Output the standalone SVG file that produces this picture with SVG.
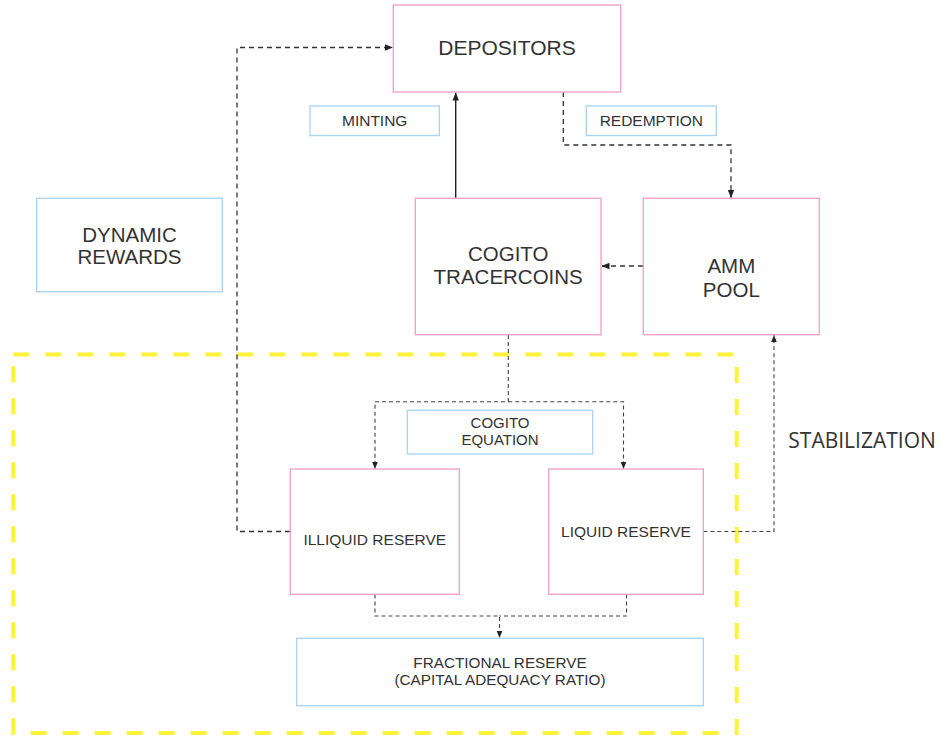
<svg xmlns="http://www.w3.org/2000/svg" width="940" height="737" viewBox="0 0 940 737">
<style>
.pk{fill:#fff;stroke:#f2a3c9;stroke-width:1.4}
.bl{fill:#fff;stroke:#acd6f6;stroke-width:1.4}
.t{font-family:"Liberation Sans",Arial,sans-serif;fill:#333;text-anchor:middle}
.big{font-size:20.5px}
.sm{font-size:15.5px}
.c1{fill:none;stroke:#333;stroke-width:1.3;stroke-dasharray:5 4}
.c2{fill:none;stroke:#444;stroke-width:1.1;stroke-dasharray:4 3}
.solid{fill:none;stroke:#222;stroke-width:1.4}
</style>
<defs>
<marker id="ah" markerUnits="userSpaceOnUse" markerWidth="8" markerHeight="8" viewBox="0 0 8 8" refX="8" refY="4" orient="auto">
<path d="M0,0.8 L8,4 L0,7.2 z" fill="#222"/>
</marker>
<marker id="as" markerUnits="userSpaceOnUse" markerWidth="7" markerHeight="7" viewBox="0 0 7 7" refX="7" refY="3.5" orient="auto">
<path d="M0,0.7 L7,3.5 L0,6.3 z" fill="#222"/>
</marker>
</defs>
<rect width="940" height="737" fill="#fff"/>
<rect id="stabilization-zone" x="13.3" y="354.5" width="723.4" height="378.5" fill="none" stroke="#fff23a" stroke-width="4" stroke-dasharray="16 16"/>
<g id="connectors">
<path class="c1" d="M290,531.5 H237 V47.5 H393" marker-end="url(#ah)"/>
<path class="solid" d="M455.7,198 V92.5" marker-end="url(#ah)"/>
<path class="c1" d="M563.3,92 V145 H731 V198" marker-end="url(#ah)"/>
<path class="c1" d="M643,266 H601.5" marker-end="url(#ah)"/>
<path class="c2" d="M508.3,335 V401.7 H375 V469" marker-end="url(#as)"/>
<path class="c2" d="M508.3,401.7 H623.5 V469" marker-end="url(#as)"/>
<path class="c2" d="M375,594.5 V616 H499.5 V638" marker-end="url(#as)"/>
<path class="c2" d="M626.5,594.5 V616 H499.5"/>
<path class="c2" d="M703.3,531.5 H774 V335" marker-end="url(#as)"/>
</g>
<g id="depositors">
<rect class="pk" x="393.3" y="5" width="227.4" height="87"/>
<text class="t" x="507" y="55" font-size="21">DEPOSITORS</text>
</g>
<g id="minting">
<rect class="bl" x="310" y="106" width="129.3" height="29.5"/>
<text class="t sm" x="374.7" y="125.5">MINTING</text>
</g>
<g id="redemption">
<rect class="bl" x="586.3" y="106" width="130" height="29.5"/>
<text class="t sm" x="651.3" y="125.5">REDEMPTION</text>
</g>
<g id="dynamic-rewards">
<rect class="bl" x="36.7" y="198.3" width="185.6" height="93.4"/>
<text class="t big" x="129.5" y="241.7">DYNAMIC</text>
<text class="t big" x="129.5" y="263.5">REWARDS</text>
</g>
<g id="cogito-tracercoins">
<rect class="pk" x="415.3" y="198.3" width="185.7" height="136.4"/>
<text class="t big" x="508.2" y="261">COGITO</text>
<text class="t big" x="508.2" y="284.3">TRACERCOINS</text>
</g>
<g id="amm-pool">
<rect class="pk" x="643.3" y="198.3" width="176" height="136.4"/>
<text class="t big" x="731.3" y="273.3">AMM</text>
<text class="t big" x="731.3" y="297">POOL</text>
</g>
<g id="cogito-equation">
<rect class="bl" x="407.3" y="410.3" width="185.4" height="43.7"/>
<text class="t" x="500" y="427.7" font-size="15">COGITO</text>
<text class="t" x="500" y="445" font-size="15">EQUATION</text>
</g>
<g id="illiquid-reserve">
<rect class="pk" x="290.3" y="469" width="169" height="125.3"/>
<text class="t sm" x="374.8" y="545">ILLIQUID RESERVE</text>
</g>
<g id="liquid-reserve">
<rect class="pk" x="548.7" y="469" width="154.6" height="125.3"/>
<text class="t sm" x="626" y="536.7">LIQUID RESERVE</text>
</g>
<g id="fractional-reserve">
<rect class="bl" x="296.7" y="638.3" width="406.6" height="67.4"/>
<text class="t" x="500" y="668.3" font-size="15.3">FRACTIONAL RESERVE</text>
<text class="t" x="500" y="685" font-size="15.3">(CAPITAL ADEQUACY RATIO)</text>
</g>
<g id="stabilization-label">
<text x="788.3" y="447.7" font-family="'Open Sans','Noto Sans',sans-serif" font-size="21" fill="#333">STABILIZATION</text>
</g>
</svg>
